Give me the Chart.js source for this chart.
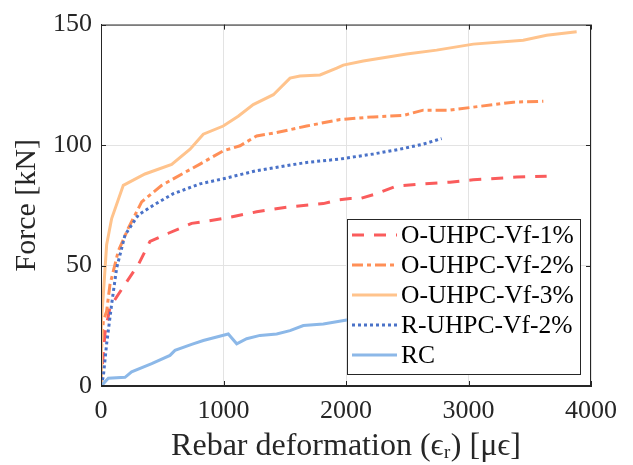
<!DOCTYPE html>
<html>
<head>
<meta charset="utf-8">
<script src="https://cdn.jsdelivr.net/npm/chart.js@4.4.1/dist/chart.umd.min.js"></script>
<style>
  body { margin: 0; background: #fff; }
  #wrap { width: 633px; height: 465px; position: relative; }
</style>
</head>
<body>
<div id="wrap"><canvas id="forceChart"></canvas></div>
<script>
// rebar strain (micro-strain) vs force (kN)
const strain1 = [0, 5, 33, 73, 141, 196, 305, 400, 550, 740, 998, 1271, 1543, 1815, 1924, 2033, 2114, 2223, 2413, 2631, 2849, 3039, 3176, 3393, 3638];
const force1 = [0, 5, 22, 32.6, 38, 42.2, 50.4, 60, 63.4, 67.5, 69.5, 72.3, 74.4, 75.7, 77.1, 77.8, 77.8, 79.4, 83, 83.9, 84.6, 85.6, 86, 86.7, 87.1];

const strain2 = [0, 5, 19, 46, 73, 141, 223, 332, 496, 686, 808, 998, 1135, 1271, 1434, 1679, 1951, 2223, 2468, 2631, 2849, 3094, 3366, 3611];
const force2 = [0, 16, 27, 31, 42, 56, 65.5, 76.4, 83.3, 88.7, 92.1, 97.6, 99.7, 103.8, 105.2, 107.9, 110.6, 111.7, 112.3, 114.5, 114.5, 116.1, 117.8, 118.2];

const strain3 = [0, 2, 5, 19, 46, 87, 182, 359, 577, 727, 835, 998, 1120, 1243, 1407, 1543, 1624, 1788, 1924, 1978, 2141, 2495, 2740, 3039, 3447, 3638, 3883];
const force3 = [0, 12, 27, 38, 58.6, 69.5, 83.3, 88, 92, 98.3, 104.5, 107.9, 112, 116.8, 120.9, 127.8, 128.7, 129.1, 131.9, 133.2, 134.9, 137.8, 139.4, 141.9, 143.5, 145.6, 147];

const strainR = [0, 19, 46, 87, 128, 196, 305, 427, 590, 808, 998, 1271, 1679, 1951, 2223, 2441, 2631, 2781];
const forceR = [0, 4, 17.5, 34, 49, 62.7, 71, 75, 79.8, 83.9, 86, 89.4, 92.8, 94.2, 96.3, 98.3, 100.4, 102.7];

const strainRC = [0, 19, 60, 196, 250, 414, 563, 604, 740, 835, 1039, 1108, 1189, 1298, 1434, 1543, 1652, 1815, 2006, 2100];
const forceRC = [0, 1, 3.2, 3.6, 5.9, 9.3, 12.7, 14.8, 17.3, 18.9, 21.6, 17.5, 19.6, 21, 21.6, 23, 25.1, 25.7, 27.4, 28];

const seriesNames = ['O-UHPC-Vf-1%', 'O-UHPC-Vf-2%', 'O-UHPC-Vf-3%', 'R-UHPC-Vf-2%', 'RC'];
const xTicks = [0, 1000, 2000, 3000, 4000];
const yTicks = [0, 50, 100, 150];

const serif = "'Liberation Serif', 'DejaVu Serif', serif";
const axisColor = '#262626';

function pts(xs, ys) {
    return xs.map(function (x, i) { return { x: x, y: ys[i] }; });
}

var styles = [
    { color: '#fa5c5c', dash: [12, 10] },
    { color: '#ff8f57', dash: [11, 4, 4, 4] },
    { color: '#ffc38c', dash: [] },
    { color: '#4a72c8', dash: [3, 3] },
    { color: '#8cb8e8', dash: [] }
];
var allX = [strain1, strain2, strain3, strainR, strainRC];
var allY = [force1, force2, force3, forceR, forceRC];

var datasets = seriesNames.map(function (name, i) {
    return {
        label: name,
        data: pts(allX[i], allY[i]),
        showLine: true,
        borderColor: styles[i].color,
        borderWidth: 3,
        borderDash: styles[i].dash,
        pointRadius: 0,
        fill: false,
        order: 5 - i
    };
});

// box + inward ticks like matlab
const boxPlugin = {
    id: 'boxPlugin',
    afterDatasetsDraw: function (chart) {
        const ctx = chart.ctx;
        const a = chart.chartArea;
        const xs = chart.scales.x, ys = chart.scales.y;
        ctx.save();
        ctx.strokeStyle = axisColor;
        ctx.lineWidth = 1;
        ctx.setLineDash([]);
        ctx.strokeRect(a.left + 0.5, a.top + 0.5, a.right - a.left - 1, a.bottom - a.top - 1);
        ctx.beginPath();
        xTicks.forEach(function (v) {
            const px = Math.round(xs.getPixelForValue(v)) + 0.5;
            ctx.moveTo(px, a.bottom); ctx.lineTo(px, a.bottom - 5);
            ctx.moveTo(px, a.top); ctx.lineTo(px, a.top + 5);
        });
        yTicks.forEach(function (v) {
            const py = Math.round(ys.getPixelForValue(v)) + 0.5;
            ctx.moveTo(a.left, py); ctx.lineTo(a.left + 5, py);
            ctx.moveTo(a.right, py); ctx.lineTo(a.right - 5, py);
        });
        ctx.stroke();

        // legend box
        const lx = 347, ly = 219, lw = 233, lh = 155;
        ctx.fillStyle = '#fff';
        ctx.fillRect(lx, ly, lw, lh);
        ctx.strokeRect(lx + 0.5, ly + 0.5, lw, lh);
        ctx.font = '25.5px ' + serif;
        ctx.textBaseline = 'middle';
        ctx.textAlign = 'left';
        seriesNames.forEach(function (name, i) {
            const cy = 235 + i * 30;
            ctx.beginPath();
            ctx.strokeStyle = styles[i].color;
            ctx.lineWidth = 3;
            ctx.setLineDash(styles[i].dash);
            ctx.moveTo(352, cy); ctx.lineTo(397, cy);
            ctx.stroke();
            ctx.fillStyle = '#000';
            ctx.fillText(name, 401, cy + 1);
        });
        ctx.restore();
    }
};

function plainLabel(v) { return String(v); }

new Chart(document.getElementById('forceChart'), {
    type: 'scatter',
    data: { datasets: datasets },
    options: {
        responsive: true,
        maintainAspectRatio: false,
        animation: false,
        layout: { padding: { top: 21, right: 42, left: 0, bottom: 0 } },
        plugins: { legend: { display: false }, tooltip: { enabled: false } },
        scales: {
            x: {
                type: 'linear', min: 0, max: 4000,
                afterFit: function (s) { s.height = 79; },
                afterBuildTicks: function (s) { s.ticks = xTicks.map(function (v) { return { value: v }; }); },
                grid: { color: '#e3e3e3', drawTicks: false },
                border: { display: true, color: axisColor },
                ticks: { color: axisColor, padding: 10, maxRotation: 0, callback: plainLabel, font: { family: serif, size: 26 } },
                title: { display: true, text: 'Rebar deformation (ϵᵣ) [μϵ]', color: axisColor, padding: { top: 0, bottom: -1 }, font: { family: serif, size: 32 } }
            },
            y: {
                type: 'linear', min: 0, max: 150,
                afterFit: function (s) { s.width = 101; },
                afterBuildTicks: function (s) { s.ticks = yTicks.map(function (v) { return { value: v }; }); },
                grid: { color: '#e3e3e3', drawTicks: false },
                border: { display: true, color: axisColor },
                ticks: { color: axisColor, padding: 9, callback: plainLabel, font: { family: serif, size: 26 } },
                title: { display: true, text: 'Force [kN]', color: axisColor, padding: { top: 9, bottom: 0 }, font: { family: serif, size: 30 } }
            }
        }
    },
    plugins: [boxPlugin]
});
</script>
</body>
</html>
